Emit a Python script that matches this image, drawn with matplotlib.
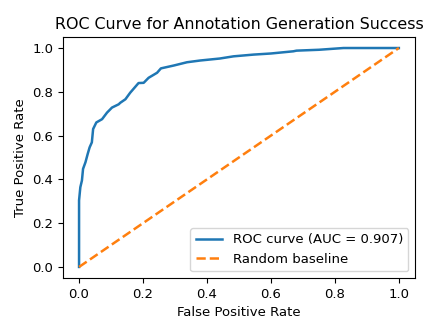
import matplotlib
matplotlib.use('Agg')
import matplotlib.pyplot as plt

# ROC points
fpr = [0.0, 0.0, 0.004, 0.009, 0.0125, 0.02, 0.027, 0.033, 0.04, 0.044, 0.054,
       0.072, 0.0875, 0.103, 0.124, 0.129, 0.145, 0.16, 0.186, 0.202, 0.2175, 0.244,
       0.256, 0.296, 0.3375, 0.379, 0.44, 0.483, 0.546, 0.6, 0.67, 0.68, 0.75, 0.827,
       0.9, 1.0]
tpr = [0.0, 0.304, 0.364, 0.395, 0.448, 0.478, 0.516, 0.546, 0.569, 0.63, 0.66,
       0.675, 0.705, 0.728, 0.743, 0.75, 0.766, 0.796, 0.84, 0.841, 0.864, 0.887,
       0.907, 0.92, 0.935, 0.943, 0.952, 0.962, 0.97, 0.975, 0.985, 0.988, 0.992, 1.0,
       1.0, 1.0]
auc = 0.907

fig = plt.figure(figsize=(4.29, 3.34), dpi=100)
ax = fig.add_axes([0.147, 0.168, 0.820, 0.721])

ax.plot(fpr, tpr, color='#1f77b4', lw=1.8, label=f'ROC curve (AUC = {auc:.3f})')
ax.plot([0, 1], [0, 1], color='#ff7f0e', lw=1.8, ls='--', label='Random baseline')

ax.set_xlabel('False Positive Rate', fontsize=9.5)
ax.set_ylabel('True Positive Rate', fontsize=9.5)
ax.set_title('ROC Curve for Annotation Generation Success', fontsize=11.4)
ax.tick_params(labelsize=9.5)
ax.legend(loc='lower right', fontsize=9.5)

fig.savefig('out.png', dpi=100)
